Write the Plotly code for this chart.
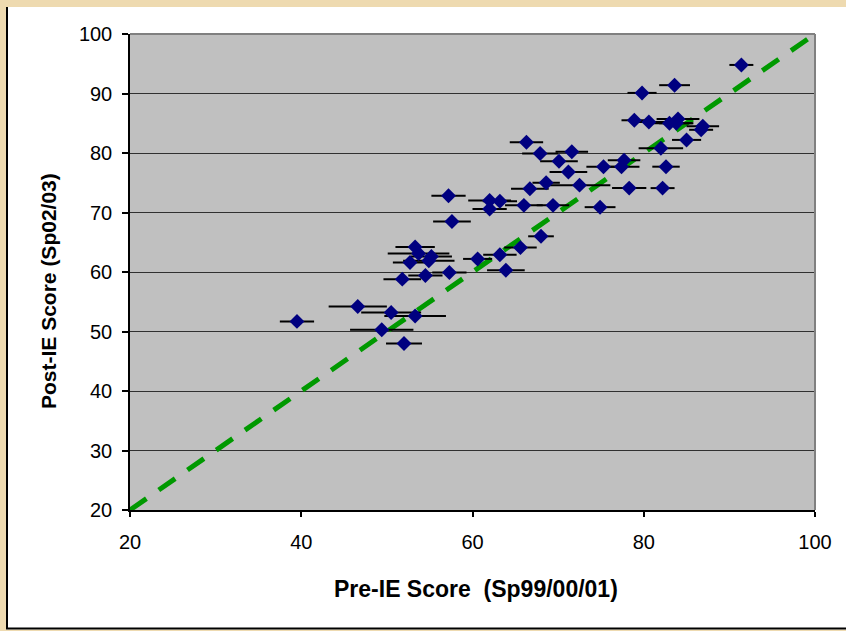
import plotly.graph_objects as go

# Pre-IE score (x), Post-IE score (y), half-width of horizontal error bar
pre_score = [39.5, 46.6, 50.5, 53.3, 49.4, 52.0, 53.3, 53.7, 55.2, 54.9,
             52.7, 51.8, 54.5, 57.3, 57.2, 57.6, 60.6, 63.9, 63.2, 65.6,
             68.0, 62.0, 63.2, 62.0, 66.0, 69.4, 66.7, 68.6, 72.5, 71.2,
             70.1, 67.9, 71.6, 66.3, 74.9, 75.3, 77.7, 77.4, 78.3, 82.2,
             82.6, 82.0, 85.0, 86.7, 86.9, 84.0, 83.0, 83.8, 80.6, 78.9,
             79.8, 83.6, 91.4]
post_score = [51.7, 54.2, 53.2, 52.6, 50.3, 48.0, 64.2, 63.1, 62.6, 61.9,
              61.6, 58.8, 59.4, 59.9, 72.8, 68.5, 62.2, 60.3, 62.9, 64.1,
              66.0, 72.0, 71.9, 70.6, 71.2, 71.2, 74.0, 75.0, 74.6, 76.8,
              78.6, 79.9, 80.2, 81.8, 70.9, 77.7, 78.8, 77.7, 74.1, 74.1,
              77.7, 80.8, 82.2, 83.9, 84.5, 85.7, 85.0, 85.0, 85.2, 85.5,
              90.1, 91.4, 94.8]
pre_err = [2.0, 3.4, 3.5, 3.6, 3.7, 2.1, 2.3, 3.6, 2.4, 3.0,
           2.0, 2.2, 2.0, 2.0, 2.0, 2.2, 1.7, 2.2, 1.95, 1.9,
           1.5, 2.5, 2.0, 2.0, 2.2, 1.9, 2.2, 1.6, 3.6, 2.2,
           2.2, 2.1, 1.9, 1.95, 1.8, 2.0, 1.9, 2.1, 2.0, 1.4,
           1.6, 2.6, 1.7, 1.4, 1.9, 2.5, 2.7, 2.0, 2.0, 1.5,
           1.7, 1.8, 1.4]

ref_line = [20, 100]
x_ticks = [20, 40, 60, 80, 100]
y_ticks = [20, 30, 40, 50, 60, 70, 80, 90, 100]

W, H = 846, 631
L, R, T, B = 130, 815, 34, 510
pw, ph = R - L, B - T

def px(x):
    return (x - L) / pw

def py(y):
    return (B - y) / ph

fig = go.Figure()

fig.add_trace(go.Scatter(
    x=ref_line, y=ref_line, mode="lines",
    line=dict(color="#009900", width=5, dash="20px,15px"),
    hoverinfo="skip", showlegend=False, cliponaxis=False))

fig.add_trace(go.Scatter(
    x=pre_score, y=post_score, mode="markers",
    marker=dict(symbol="diamond", size=11.5, color="#000080", line=dict(width=0)),
    error_x=dict(type="data", array=pre_err, symmetric=True,
                 color="black", thickness=2, width=0),
    showlegend=False))

parch = "#EEDAB0"
shapes = [
    # parchment strips around the white chart area
    dict(type="rect", xref="paper", yref="paper", x0=px(0), x1=px(6), y0=py(H), y1=py(0),
         fillcolor=parch, line=dict(width=0), layer="above"),
    dict(type="rect", xref="paper", yref="paper", x0=px(0), x1=px(W), y0=py(7), y1=py(0),
         fillcolor=parch, line=dict(width=0), layer="above"),
    dict(type="rect", xref="paper", yref="paper", x0=px(0), x1=px(W), y0=py(H), y1=py(629.5),
         fillcolor=parch, line=dict(width=0), layer="above"),
    # chart-area border lines
    dict(type="line", xref="paper", yref="paper", x0=px(7), x1=px(7), y0=py(629), y1=py(7),
         line=dict(color="black", width=2), layer="above"),
    dict(type="line", xref="paper", yref="paper", x0=px(6), x1=px(W), y0=py(628.5), y1=py(628.5),
         line=dict(color="black", width=2), layer="above"),
    # plot-area grey frame (top, right)
    dict(type="line", xref="paper", yref="paper", x0=0, x1=1, y0=1, y1=1,
         line=dict(color="#808080", width=2), layer="above"),
    dict(type="line", xref="paper", yref="paper", x0=1, x1=1, y0=0, y1=1,
         line=dict(color="#808080", width=2), layer="above"),
]

font_family = "Liberation Sans, Arial, sans-serif"

fig.update_layout(
    width=W, height=H,
    margin=dict(l=L, r=W - R, t=T, b=H - B, pad=0),
    paper_bgcolor="white",
    plot_bgcolor="#C0C0C0",
    font=dict(family=font_family, size=20, color="black"),
    shapes=shapes,
    showlegend=False,
    xaxis=dict(range=[20, 100], tickvals=x_ticks, showgrid=False, zeroline=False,
               showline=True, linecolor="black", linewidth=1.5,
               ticks="outside", ticklen=5, tickcolor="black", tickwidth=1.5,
               ticklabelstandoff=8, tickfont=dict(size=20)),
    yaxis=dict(range=[20, 100], tickvals=y_ticks, showgrid=True, gridcolor="#303030",
               gridwidth=1.2, zeroline=False,
               showline=True, linecolor="black", linewidth=1.5,
               ticks="outside", ticklen=6, tickcolor="black", tickwidth=1.5,
               ticklabelstandoff=6, tickfont=dict(size=20)),
    annotations=[
        dict(text="<b>Pre-IE Score&nbsp; (Sp99/00/01)</b>", xref="paper", yref="paper",
             x=px(476), y=py(589), showarrow=False, font=dict(size=23),
             xanchor="center", yanchor="middle"),
        dict(text="<b>Post-IE Score (Sp02/03)</b>", xref="paper", yref="paper",
             x=px(48), y=py(291), showarrow=False, font=dict(size=21), textangle=-90,
             xanchor="center", yanchor="middle"),
    ],
)

fig.write_html(
    "out.html",
    config={"displayModeBar": False},
    post_script="document.body.style.margin='0';document.body.style.padding='0';"
                "document.body.style.overflow='hidden';"
                "document.body.style.background='#EEDAB0';")
